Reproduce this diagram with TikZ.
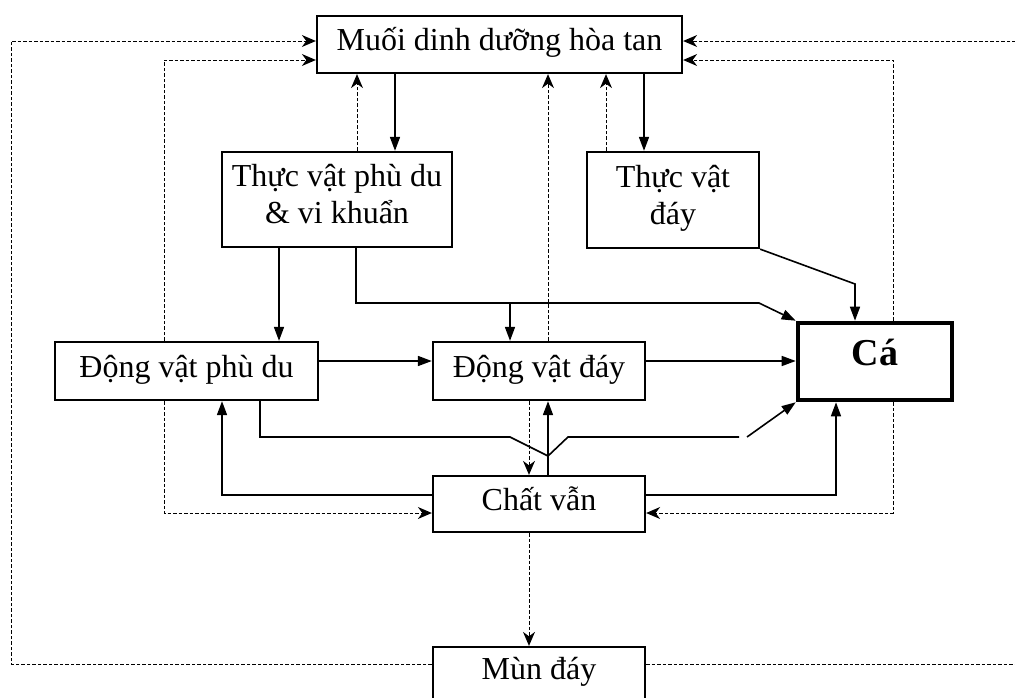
\documentclass[tikz,border=0pt]{standalone}
\usepackage{fontspec}
\setmainfont{Liberation Serif}
\usetikzlibrary{arrows.meta}
\newcommand\boxfont{\fontsize{32}{29}\selectfont}
\newcommand\pairfont{\fontsize{32}{37}\selectfont\lineskiplimit=-60pt\relax}
\newcommand\fishfont{\fontsize{38}{40}\selectfont\bfseries}
\begin{document}
\begin{tikzpicture}[x=1pt,y=-1pt,
  box/.style={draw, line width=2.3pt, fill=white, inner sep=0pt, align=center, font=\boxfont},
  onerow/.style={text height=20pt, text depth=8pt},
  tworow/.style={label={[font=\pairfont, align=center, inner sep=0pt, yshift=#1]center:{\ttext}}},
  flow/.style={line width=1.6pt, -{Triangle[length=14pt,width=10pt]}},
  ret/.style={line width=1pt, dash pattern=on 3.5pt off 2pt,
    -{Stealth[length=14pt,width=12pt,inset=4.5pt]}},
]
\useasboundingbox (0,0) rectangle (1015,697);

% boxes
\node[box, onerow, minimum width=365pt, minimum height=57pt] (mdd) at (499.5,44.5) {Muối dinh dưỡng hòa tan};
\def\ttext{Thực vật phù du\\\& vi khuẩn}
\node[box, tworow=5pt, minimum width=230pt, minimum height=95pt] (tvpd) at (337,199.5) {};
\def\ttext{Thực vật\\đáy}
\node[box, tworow=2pt, minimum width=172pt, minimum height=96pt] (tvd) at (673,200) {};
\node[box, onerow, minimum width=263pt, minimum height=58pt] (dvpd) at (186.5,371) {Động vật phù du};
\node[box, onerow, minimum width=212pt, minimum height=58pt] (dvd) at (539,371) {Động vật đáy};
\node[box, line width=4.6pt, minimum width=154pt, minimum height=77pt,
      font=\fishfont, text height=27pt, text depth=20pt] (ca) at (875,361.5) {Cá};
\node[box, onerow, minimum width=212pt, minimum height=56pt] (cv) at (539,504) {Chất vẫn};
\node[box, onerow, minimum width=212pt, minimum height=52pt] (md) at (539,673) {Mùn đáy};

% columns and rows used by the connectors
\coordinate (xa) at (395,0);  \coordinate (xb) at (357,0);
\coordinate (xc) at (644,0);  \coordinate (xd) at (606,0);
\coordinate (xe) at (548,0);  \coordinate (xf) at (529,0);
\coordinate (xg) at (279,0);  \coordinate (xh) at (356,0);
\coordinate (xi) at (510,0);  \coordinate (xj) at (759,0);
\coordinate (xk) at (855,0);  \coordinate (xl) at (260,0);
\coordinate (xm) at (222,0);  \coordinate (xn) at (836,0);
\coordinate (xo) at (164,0);  \coordinate (xp) at (893,0);
\coordinate (xq) at (11,0);   \coordinate (xr) at (1020,0);
\coordinate (xs) at (568,0);  \coordinate (xt) at (739,0);
\coordinate (xu) at (747,0);
\coordinate (r41) at (0,41);   \coordinate (r60) at (0,60);
\coordinate (r284) at (0,284); \coordinate (r303) at (0,303);
\coordinate (r361) at (0,361); \coordinate (r437) at (0,437);
\coordinate (r456) at (0,456); \coordinate (r495) at (0,495);
\coordinate (r513) at (0,513); \coordinate (r664) at (0,664);

% return flows (dashed)
\draw[ret] (md.west |- r664) -- (xq |- r664) -- (xq |- r41) -- (mdd.west |- r41);
\draw[ret] (md.east |- r664) -- (xr |- r664) -- (xr |- r41) -- (mdd.east |- r41);
\draw[ret] (dvpd.north -| xo) -- (xo |- r60) -- (mdd.west |- r60);
\draw[ret] (dvpd.south -| xo) -- (xo |- r513) -- (cv.west |- r513);
\draw[ret] (ca.north -| xp) -- (xp |- r60) -- (mdd.east |- r60);
\draw[ret] (ca.south -| xp) -- (xp |- r513) -- (cv.east |- r513);
\draw[ret] (tvpd.north -| xb) -- (mdd.south -| xb);
\draw[ret] (tvd.north -| xd) -- (mdd.south -| xd);
\draw[ret] (dvd.north -| xe) -- (mdd.south -| xe);
\draw[ret] (dvd.south -| xf) -- (cv.north -| xf);
\draw[ret] (cv.south -| xf) -- (md.north -| xf);

% food flows (solid)
\draw[flow] (mdd.south -| xa) -- (tvpd.north -| xa);
\draw[flow] (mdd.south -| xc) -- (tvd.north -| xc);
\draw[flow] (tvpd.south -| xg) -- (dvpd.north -| xg);
\draw[flow] (tvpd.south -| xh) -- (xh |- r303) -- (xj |- r303) -- (ca.north west);
\coordinate (br) at (xi |- r303);
\draw[flow] (br) -- (dvd.north -| xi);
\draw[flow] (tvd.south east) -- (xk |- r284) -- (ca.north -| xk);
\draw[flow] (dvpd.east |- r361) -- (dvd.west |- r361);
\draw[flow] (dvd.east |- r361) -- (ca.west |- r361);
\draw[flow] (dvpd.south -| xl) -- (xl |- r437) -- (xi |- r437) -- (xe |- r456)
   -- (xs |- r437) -- (xt |- r437) (xu |- r437) -- (ca.south west);
\draw[flow] (cv.north -| xe) -- (dvd.south -| xe);
\draw[flow] (cv.west |- r495) -- (xm |- r495) -- (dvpd.south -| xm);
\draw[flow] (cv.east |- r495) -- (xn |- r495) -- (ca.south -| xn);
\end{tikzpicture}
\end{document}
